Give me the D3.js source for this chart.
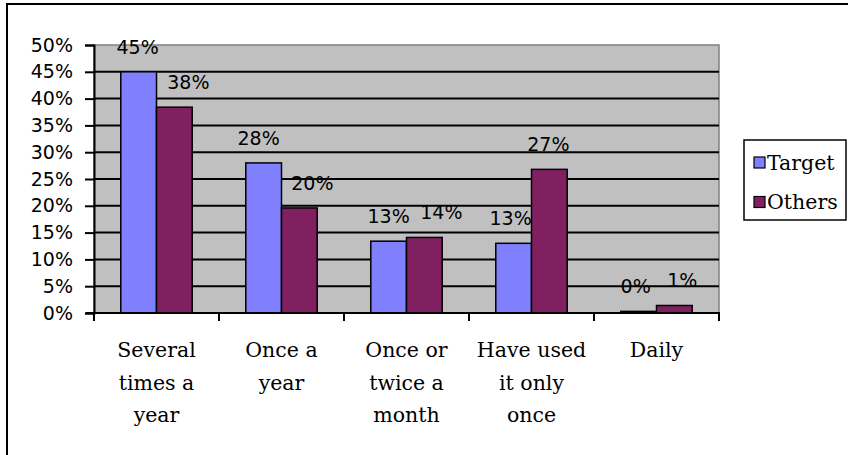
<!DOCTYPE html>
<html>
<head>
<meta charset="utf-8">
<script src="https://cdn.jsdelivr.net/npm/d3@7"></script>
<style>
  html, body { margin: 0; padding: 0; background: #fff; }
  svg { display: block; }
</style>
</head>
<body>
<svg id="chart" width="848" height="455"></svg>
<script>
// Frequency of use, share of respondents per group
const categories = ["Several times a year", "Once a year", "Once or twice a month", "Have used it only once", "Daily"];
const categoryLines = [["Several", "times a", "year"], ["Once a", "year"], ["Once or", "twice a", "month"], ["Have used", "it only", "once"], ["Daily"]];
const seriesNames = ["Target", "Others"];
const targetValues = [0.45, 0.28, 0.134, 0.13, 0.003];
const othersValues = [0.384, 0.196, 0.141, 0.268, 0.014];
const yTicks = [0, 0.05, 0.10, 0.15, 0.20, 0.25, 0.30, 0.35, 0.40, 0.45, 0.50];

const colors = { Target: "#8080FF", Others: "#802060" };

// Hand-placed nudges for the value labels (dx per bar, px)
const labelShift = {
  Target: [-1, -5, 0, -3, -3],
  Others: [14, 13, 17, -1, 8]
};

const svg = d3.select("#chart");
const plot = { left: 94, right: 719, top: 45, bottom: 313 };

// Outer chart frame
svg.append("rect")
  .attr("x", 7).attr("y", 4)
  .attr("width", 900).attr("height", 500)
  .attr("fill", "#fff").attr("stroke", "#000").attr("stroke-width", 2);

const x0 = d3.scaleBand().domain(categories).range([plot.left, plot.right]).paddingInner(0).paddingOuter(0);
const x1 = d3.scaleBand().domain(seriesNames).range([0, x0.bandwidth()]).paddingInner(0).paddingOuter(0.75);
const y = d3.scaleLinear().domain([0, 0.5]).range([plot.bottom, plot.top]);

// Plot background
svg.append("rect")
  .attr("x", plot.left).attr("y", plot.top)
  .attr("width", plot.right - plot.left).attr("height", plot.bottom - plot.top)
  .attr("fill", "#C0C0C0").attr("stroke", "#808080").attr("stroke-width", 1.5);

// Horizontal gridlines
svg.append("g").selectAll("line")
  .data(yTicks.filter(t => t > 0 && t < 0.5))
  .join("line")
  .attr("x1", plot.left).attr("x2", plot.right)
  .attr("y1", d => y(d)).attr("y2", d => y(d))
  .attr("stroke", "#000").attr("stroke-width", 2);

// Y axis
const yAxis = d3.axisLeft(y).tickValues(yTicks).tickFormat(d3.format(".0%")).tickSize(9).tickPadding(12);
const gy = svg.append("g").attr("transform", `translate(${plot.left},0)`).call(yAxis);
gy.select(".domain").attr("stroke", "#000").attr("stroke-width", 2);
gy.selectAll(".tick line").attr("stroke", "#000").attr("stroke-width", 2);
gy.selectAll(".tick text")
  .attr("fill", "#000")
  .style("font-family", "'DejaVu Sans', sans-serif")
  .style("font-size", "19px");

// Bars
const data = categories.map((c, i) => ({
  cat: c,
  idx: i,
  vals: [{ s: "Target", v: targetValues[i], i }, { s: "Others", v: othersValues[i], i }]
}));

const groups = svg.append("g").selectAll("g")
  .data(data)
  .join("g")
  .attr("transform", d => `translate(${x0(d.cat)},0)`);

groups.selectAll("rect")
  .data(d => d.vals)
  .join("rect")
  .attr("x", d => x1(d.s))
  .attr("y", d => y(d.v))
  .attr("width", x1.bandwidth())
  .attr("height", d => y(0) - y(d.v))
  .attr("fill", d => colors[d.s])
  .attr("stroke", "#000").attr("stroke-width", 1.5);

groups.selectAll("text.val")
  .data(d => d.vals)
  .join("text")
  .attr("class", "val")
  .attr("x", d => x1(d.s) + x1.bandwidth() / 2 + labelShift[d.s][d.i])
  .attr("y", d => y(d.v) - 18)
  .attr("text-anchor", "middle")
  .attr("fill", "#000")
  .style("font-family", "'DejaVu Sans', sans-serif")
  .style("font-size", "19px")
  .text(d => d3.format(".0%")(d.v));

// X axis
const xAxis = d3.axisBottom(x0).tickSize(0).tickFormat("");
const gx = svg.append("g").attr("transform", `translate(0,${plot.bottom})`).call(xAxis);
gx.select(".domain").remove();
svg.append("line")
  .attr("x1", 86).attr("x2", plot.right + 1)
  .attr("y1", plot.bottom).attr("y2", plot.bottom)
  .attr("stroke", "#000").attr("stroke-width", 2);
const boundaries = categories.map(c => x0(c)).concat([x0(categories[categories.length - 1]) + x0.bandwidth()]);
svg.append("g").selectAll("line")
  .data(boundaries)
  .join("line")
  .attr("x1", d => d).attr("x2", d => d)
  .attr("y1", plot.bottom).attr("y2", plot.bottom + 8)
  .attr("stroke", "#000").attr("stroke-width", 2);

// Category labels
const catText = svg.append("g").selectAll("text")
  .data(categories)
  .join("text")
  .attr("x", d => x0(d) + x0.bandwidth() / 2)
  .attr("y", 357)
  .attr("text-anchor", "middle")
  .attr("fill", "#000")
  .style("font-family", "'DejaVu Serif', serif")
  .style("font-size", "20.5px");
catText.selectAll("tspan")
  .data((d, i) => categoryLines[i])
  .join("tspan")
  .attr("x", function() { return d3.select(this.parentNode).attr("x"); })
  .attr("dy", (d, i) => i === 0 ? 0 : 32.5)
  .text(d => d);

// Legend
const legend = svg.append("g");
legend.append("rect")
  .attr("x", 744).attr("y", 140).attr("width", 102).attr("height", 80)
  .attr("fill", "#fff").attr("stroke", "#000").attr("stroke-width", 1.5);
const items = legend.selectAll("g.item")
  .data(seriesNames)
  .join("g")
  .attr("class", "item")
  .attr("transform", (d, i) => `translate(754,${157 + i * 39.5})`);
items.append("rect")
  .attr("width", 11).attr("height", 11)
  .attr("fill", d => colors[d]).attr("stroke", "#000").attr("stroke-width", 1.2);
items.append("text")
  .attr("x", 13).attr("y", 12.5)
  .attr("fill", "#000")
  .style("font-family", "'DejaVu Serif', serif")
  .style("font-size", "20.5px")
  .text(d => d);
</script>
</body>
</html>
